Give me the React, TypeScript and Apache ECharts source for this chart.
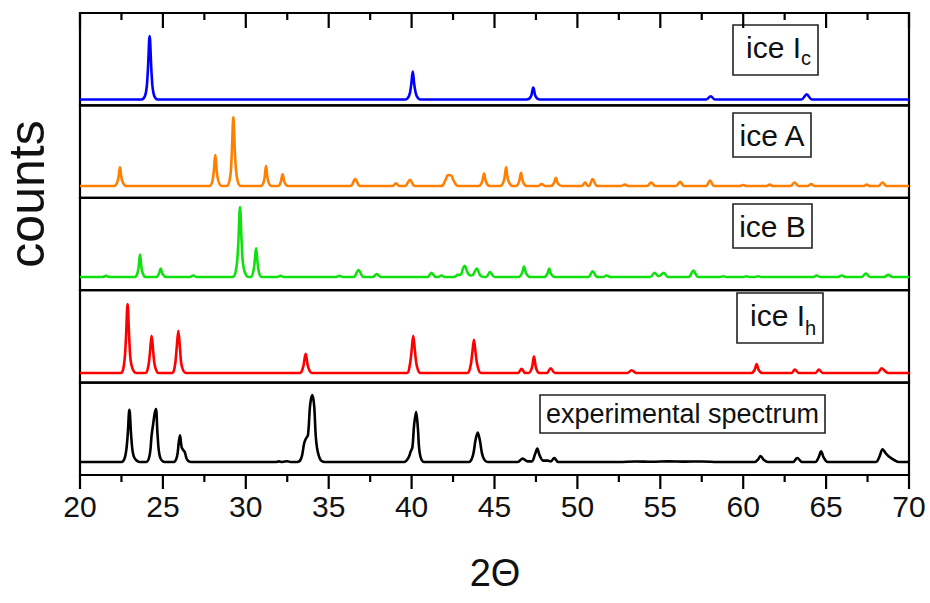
import React, { useEffect, useRef } from "react";
import * as echarts from "echarts";

// Diffraction patterns, relative intensity (tallest peak = 100), as x,y pairs
const iceIc = [
  20, 0, 23.7, 0, 23.95, 8, 24.08, 40, 24.2, 100, 24.32, 40, 24.45, 8, 24.7, 0,
  39.6, 0, 39.85, 6, 39.97, 22, 40.07, 44, 40.17, 22, 40.3, 6, 40.55, 0,
  46.95, 0, 47.2, 5, 47.34, 19, 47.48, 5, 47.75, 0,
  57.75, 0, 58.04, 5, 58.3, 0,
  63.5, 0, 63.83, 8, 64.15, 0,
  70, 0,
];

const iceA = [
  20, 0, 22.05, 0, 22.28, 8, 22.41, 27, 22.54, 8, 22.8, 0,
  27.8, 0, 28.02, 12, 28.16, 45, 28.3, 12, 28.55, 0,
  28.85, 0, 29.05, 12, 29.15, 45, 29.25, 100, 29.35, 45, 29.47, 12, 29.7, 0,
  30.9, 0, 31.1, 8, 31.22, 29, 31.34, 8, 31.55, 0,
  31.95, 0, 32.1, 5, 32.22, 17, 32.34, 5, 32.55, 0,
  36.3, 0, 36.6, 10, 36.9, 0,
  38.85, 0, 39.06, 4, 39.25, 0,
  39.6, 0, 39.9, 9, 40.2, 0,
  41.8, 0, 42.05, 9, 42.2, 16, 42.4, 15, 42.55, 7, 42.8, 0,
  44.05, 0, 44.25, 6, 44.37, 18, 44.49, 6, 44.7, 0,
  45.35, 0, 45.57, 8, 45.7, 27, 45.83, 8, 46.1, 0,
  46.3, 0, 46.48, 6, 46.6, 19, 46.72, 6, 46.95, 0,
  47.65, 0, 47.84, 3, 48.05, 0,
  48.4, 0, 48.58, 4, 48.7, 12, 48.82, 4, 49.05, 0,
  50.25, 0, 50.46, 5, 50.65, 0,
  50.7, 0, 50.92, 10, 51.2, 0,
  52.6, 0, 52.87, 2, 53.1, 0,
  54.2, 0, 54.45, 5, 54.7, 0,
  55.95, 0, 56.19, 6, 56.45, 0,
  57.75, 0, 58.0, 8, 58.25, 0,
  59.8, 0, 60.0, 1.5, 60.2, 0,
  61.4, 0, 61.6, 2, 61.8, 0,
  62.85, 0, 63.1, 5, 63.35, 0,
  63.9, 0, 64.1, 3, 64.3, 0,
  67.25, 0, 67.45, 2, 67.65, 0,
  68.15, 0, 68.4, 5, 68.65, 0,
  70, 0,
];

const iceB = [
  20, 0, 21.35, 0, 21.57, 1.5, 21.8, 0,
  23.3, 0, 23.5, 9, 23.62, 32, 23.74, 9, 23.95, 0,
  24.6, 0, 24.75, 4, 24.87, 12, 24.99, 4, 25.2, 0,
  26.6, 0, 26.83, 2, 27.05, 0,
  29.2, 0, 29.42, 12, 29.54, 45, 29.65, 100, 29.76, 45, 29.88, 12, 30.15, 0,
  30.3, 0, 30.48, 11, 30.62, 41, 30.76, 11, 30.95, 0,
  31.9, 0, 32.1, 1.5, 32.3, 0,
  35.45, 0, 35.64, 1.5, 35.85, 0,
  36.5, 0, 36.8, 10, 37.1, 0,
  37.65, 0, 37.9, 4, 38.15, 0,
  40.95, 0, 41.2, 6, 41.45, 0,
  41.6, 0, 41.8, 2, 42.0, 0,
  42.55, 0, 42.8, 3, 42.95, 3, 43.1, 12, 43.2, 16, 43.38, 6, 43.55, 2,
  43.7, 3, 43.93, 12, 44.15, 2, 44.4, 0,
  44.5, 0, 44.73, 7, 45.0, 0,
  46.45, 0, 46.65, 5, 46.78, 15, 46.91, 5, 47.15, 0,
  48.0, 0, 48.18, 4, 48.3, 12, 48.42, 4, 48.65, 0,
  50.65, 0, 50.92, 8, 51.2, 0,
  51.55, 0, 51.76, 2, 52.0, 0,
  54.4, 0, 54.65, 6, 54.9, 1, 55.22, 6, 55.45, 0,
  56.7, 0, 56.99, 9, 57.3, 0,
  58.6, 0, 58.8, 1, 59.0, 0,
  60.0, 0, 60.2, 1, 60.4, 0,
  60.7, 0, 60.9, 1, 61.1, 0,
  64.2, 0, 64.43, 2, 64.65, 0,
  65.7, 0, 65.94, 2, 66.2, 0,
  67.15, 0, 67.4, 5, 67.65, 0,
  68.5, 0, 68.75, 3, 69.0, 0,
  70, 0,
];

const iceIh = [
  20, 0, 22.45, 0, 22.65, 12, 22.76, 45, 22.87, 100, 22.98, 45, 23.1, 12, 23.4, 0,
  23.95, 0, 24.12, 10, 24.22, 30, 24.32, 54, 24.42, 30, 24.52, 10, 24.75, 0,
  25.55, 0, 25.72, 10, 25.82, 33, 25.93, 61, 26.04, 33, 26.14, 10, 26.4, 0,
  33.25, 0, 33.45, 8, 33.61, 28, 33.77, 8, 34.0, 0,
  39.7, 0, 39.88, 10, 39.99, 30, 40.1, 54, 40.21, 30, 40.32, 10, 40.55, 0,
  43.35, 0, 43.55, 10, 43.65, 27, 43.76, 48, 43.87, 27, 43.98, 10, 44.2, 0,
  46.4, 0, 46.64, 6, 46.85, 0,
  47.05, 0, 47.25, 7, 47.38, 24, 47.51, 7, 47.7, 0,
  48.15, 0, 48.39, 7, 48.65, 0,
  53.0, 0, 53.27, 4, 53.55, 0,
  60.5, 0, 60.68, 4, 60.81, 13, 60.94, 4, 61.15, 0,
  62.9, 0, 63.12, 5, 63.35, 0,
  64.35, 0, 64.57, 5, 64.8, 0,
  68.1, 0, 68.35, 7, 68.55, 3, 68.75, 0,
  70, 0,
];

const experimental = [
  20, 0, 22.5, 0, 22.72, 8, 22.86, 35, 22.98, 78, 23.1, 35, 23.25, 8, 23.6, 0,
  24.0, 0, 24.2, 10, 24.32, 40, 24.42, 58, 24.5, 72, 24.58, 79, 24.68, 40, 24.82, 8, 25.1, 0,
  25.65, 0, 25.85, 8, 25.95, 28, 26.03, 40, 26.13, 22, 26.25, 17, 26.32, 15, 26.45, 4, 26.7, 0,
  31.8, 0, 32.0, 1, 32.2, 0, 32.5, 1.2, 32.7, 0,
  33.1, 0, 33.35, 6, 33.52, 28, 33.63, 35, 33.75, 40, 33.88, 85, 34.01, 100, 34.12, 85, 34.25, 30, 34.45, 6, 34.75, 0,
  39.55, 0, 39.8, 6, 39.95, 16, 40.05, 22, 40.15, 55, 40.27, 75, 40.38, 50, 40.5, 12, 40.75, 0,
  43.45, 0, 43.7, 10, 43.85, 32, 43.99, 44, 44.12, 32, 44.3, 8, 44.6, 0,
  46.4, 0, 46.7, 5, 47.0, 1,
  47.25, 1, 47.45, 12, 47.58, 20, 47.72, 10, 47.95, 2, 48.2, 2,
  48.4, 1, 48.6, 6, 48.85, 0,
  52.5, 0, 53.5, 0.8, 54.5, 0.3, 55.5, 1, 56.5, 0.5, 57.5, 0.8, 58.5, 0,
  60.7, 0, 60.9, 4, 61.05, 9, 61.25, 3, 61.5, 0,
  63.0, 0, 63.26, 6, 63.55, 0,
  64.35, 0, 64.55, 7, 64.7, 16, 64.85, 7, 65.1, 0,
  68.0, 0, 68.2, 7, 68.41, 19, 68.6, 13, 68.85, 7, 69.1, 3, 69.4, 0,
  70, 0,
];

const xTickLabels = ["20", "25", "30", "35", "40", "45", "50", "55", "60", "65", "70"];
const majorTickValues = [20, 25, 30, 35, 40, 45, 50, 55, 60, 65, 70];
const minorTickValues = [22.5, 27.5, 32.5, 37.5, 42.5, 47.5, 52.5, 57.5, 62.5, 67.5];
const xMin = 20;
const xMax = 70;
const xStep = 5;

const panels = [
  { name: "ice Ic", data: iceIc, color: "#0000ff", yMin: -9.3, yMax: 136.2 },
  { name: "ice A", data: iceA, color: "#ff7f00", yMin: -17.1, yMax: 116.8 },
  { name: "ice B", data: iceB, color: "#10e010", yMin: -18.9, yMax: 113.1 },
  { name: "ice Ih", data: iceIh, color: "#ff0000", yMin: -13.9, yMax: 120 },
  { name: "experimental spectrum", data: experimental, color: "#000000", yMin: -19.4, yMax: 118.5 },
];

function toPairs(flat: number[]): number[][] {
  const out: number[][] = [];
  for (let i = 0; i < flat.length; i += 2) out.push([flat[i], flat[i + 1]]);
  return out;
}

const FONT = "'Liberation Sans', Arial, Helvetica, sans-serif";

export default function App() {
  const ref = useRef<HTMLDivElement>(null);
  useEffect(() => {
    if (!ref.current) return;
    const chart = echarts.init(ref.current, undefined, { renderer: "svg" });
    const left = 80;
    const right = 21;
    const top0 = 13;
    const h = 92.4;
    const n = panels.length;
    const bottom0 = top0 + n * h;

    const grids: any[] = panels.map((_, i) => ({
      left,
      right,
      top: top0 + i * h,
      height: h,
      show: true,
      borderColor: "#000",
      borderWidth: 2.2,
      backgroundColor: "transparent",
    }));

    const xAxes: any[] = panels.map((_, i) => {
      const isBottom = i === n - 1;
      return {
        type: "value",
        gridIndex: i,
        min: xMin,
        max: xMax,
        interval: xStep,
        position: "bottom",
        axisLine: { show: isBottom, onZero: false, lineStyle: { color: "#000", width: 2.2 } },
        axisTick: { show: false },
        axisLabel: {
          show: isBottom,
          fontSize: 30,
          color: "#111",
          fontFamily: FONT,
          margin: 16,
          formatter: (v: number) => xTickLabels[Math.round((v - xMin) / xStep)] ?? "",
        },
        splitLine: { show: false },
      };
    });

    const yAxes: any[] = panels.map((p, i) => ({
      type: "value",
      gridIndex: i,
      min: p.yMin,
      max: p.yMax,
      show: false,
      axisLine: { onZero: false },
      splitLine: { show: false },
    }));

    const series: any[] = panels.map((p, i) => ({
      type: "line",
      name: p.name,
      xAxisIndex: i,
      yAxisIndex: i,
      data: toPairs(p.data),
      showSymbol: false,
      symbol: "none",
      smooth: 0.35,
      lineStyle: { color: p.color, width: 2.6 },
      silent: true,
      z: 3,
    }));

    chart.setOption({
      animation: false,
      backgroundColor: "#fff",
      grid: grids,
      xAxis: xAxes,
      yAxis: yAxes,
      series,
    });

    // axis ticks placed through the x scale: inward on the top frame, outward below the bottom frame
    const tickLine = (x: number, y1: number, y2: number) => ({
      type: "line",
      shape: { x1: x, y1, x2: x, y2 },
      style: { stroke: "#000", lineWidth: 2.2 },
      silent: true,
      z: 12,
    });
    const ticks: any[] = [];
    majorTickValues.forEach((v) => {
      const x = chart.convertToPixel({ xAxisIndex: n - 1 }, v) as number;
      ticks.push(tickLine(x, top0, top0 + 15));
      ticks.push(tickLine(x, bottom0, bottom0 + 14));
    });
    minorTickValues.forEach((v) => {
      const x = chart.convertToPixel({ xAxisIndex: n - 1 }, v) as number;
      ticks.push(tickLine(x, top0, top0 + 7));
      ticks.push(tickLine(x, bottom0, bottom0 + 7));
    });

    const box = (x: number, y: number, w: number, hh: number) => ({
      type: "rect",
      shape: { x, y, width: w, height: hh },
      style: { fill: "#fff", stroke: "#222", lineWidth: 1.6 },
      z: 10,
    });
    const txt = (text: string, x: number, y: number, size: number, align = "left") => ({
      type: "text",
      x,
      y,
      style: {
        text,
        fontSize: size,
        fontFamily: FONT,
        fill: "#111",
        textAlign: align,
        textVerticalAlign: "middle",
      },
      z: 11,
    });

    const graphic: any[] = [
      ...ticks,
      box(733, 25, 85, 50),
      txt("ice I", 746, 47.5, 30),
      txt("c", 801, 58, 20),
      box(733, 113, 78, 44),
      txt("ice A", 772, 135, 30, "center"),
      box(733, 204, 79, 44),
      txt("ice B", 772.5, 226, 30, "center"),
      box(737, 293, 86, 50),
      txt("ice I", 750, 315, 30),
      txt("h", 805, 328, 20),
      box(540, 395, 285, 38),
      txt("experimental spectrum", 682.5, 414, 27, "center"),
      {
        type: "text",
        x: 495,
        y: 573,
        style: {
          text: "2Θ",
          fontSize: 38,
          fontFamily: FONT,
          fill: "#111",
          textAlign: "center",
          textVerticalAlign: "middle",
        },
      },
      {
        type: "text",
        x: 27,
        y: 194,
        rotation: Math.PI / 2,
        style: {
          text: "counts",
          fontSize: 50,
          fontFamily: FONT,
          fill: "#111",
          textAlign: "center",
          textVerticalAlign: "middle",
        },
      },
    ];

    chart.setOption({ graphic });
    return () => chart.dispose();
  }, []);
  return (
    <div
      ref={ref}
      style={{ position: "fixed", left: 0, top: 0, width: 930, height: 603 }}
    />
  );
}
